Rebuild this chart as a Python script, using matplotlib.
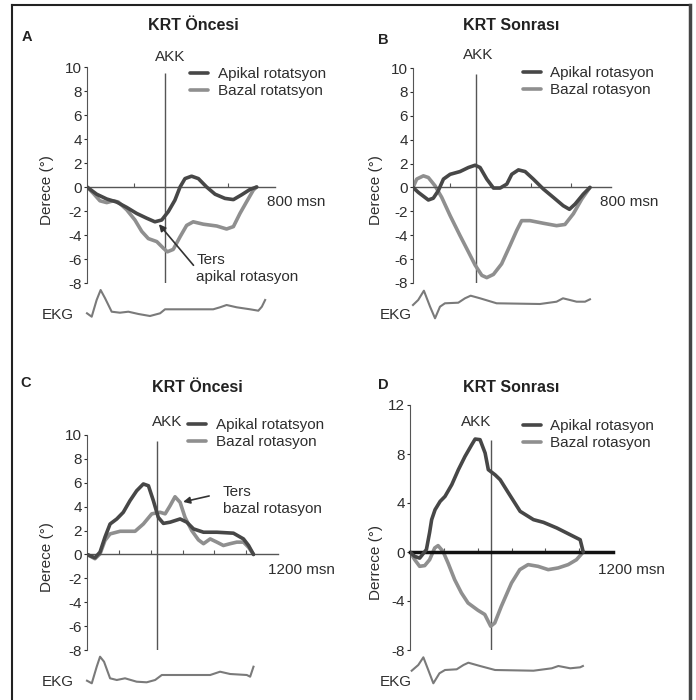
import matplotlib
matplotlib.use("Agg")
import matplotlib.pyplot as plt
from matplotlib.lines import Line2D

plt.rcParams['font.family'] = ['Liberation Sans', 'DejaVu Sans']

W, H = 696, 700
DARK = '#474747'
GRAY = '#8f8f8f'
TXT = '#2e2e2e'

# --- panel A: KRT Oncesi, 800 msn
a_apikal_t = [0, 41, 84, 126, 169, 211, 254, 289, 318, 346, 374, 396, 417, 445, 474, 509, 545, 587, 623, 658, 694, 722]
a_apikal_v = [0, -0.6, -1.0, -1.25, -1.7, -2.2, -2.6, -2.9, -2.75, -2.05, -1.1, 0, 0.7, 0.9, 0.7, 0, -0.6, -0.95, -1.05, -0.65, -0.2, 0]
a_bazal_t = [0, 27, 55, 84, 112, 133, 169, 204, 233, 261, 297, 325, 342, 367, 396, 424, 452, 495, 552, 594, 623, 651, 680, 708, 722]
a_bazal_v = [0, -0.53, -1.15, -1.3, -1.15, -1.25, -1.9, -2.75, -3.7, -4.3, -4.55, -5.1, -5.4, -5.2, -4.15, -3.2, -2.9, -3.1, -3.25, -3.5, -3.3, -2.2, -1.2, -0.25, 0]
a_ekg_t = [0, 20, 41, 58, 77, 105, 140, 176, 219, 268, 311, 332, 395, 537, 566, 594, 637, 694, 729, 744, 758]
a_ekg_v = [-0.33, -0.67, 1.0, 2.0, 1.17, -0.17, -0.27, -0.17, -0.4, -0.6, -0.33, 0.07, 0.07, 0.07, 0.27, 0.5, 0.27, 0.07, -0.07, 0.33, 1.0]

# --- panel B: KRT Sonrasi, 800 msn
b_apikal_t = [0, 22, 62, 82, 102, 123, 150, 190, 224, 251, 271, 298, 325, 352, 379, 399, 426, 453, 486, 527, 567, 607, 632, 655, 688, 715]
b_apikal_v = [0, -0.42, -1.05, -0.9, -0.28, 0.7, 1.1, 1.33, 1.67, 1.86, 1.67, 0.7, -0.05, -0.05, 0.28, 1.1, 1.47, 1.33, 0.7, -0.14, -0.83, -1.53, -1.83, -1.39, -0.56, 0]
b_bazal_t = [0, 15, 42, 62, 89, 116, 150, 190, 224, 251, 278, 298, 325, 358, 392, 419, 439, 473, 527, 580, 614, 648, 682, 715]
b_bazal_v = [0, 0.7, 0.97, 0.83, 0.14, -0.83, -2.36, -4.03, -5.4, -6.5, -7.36, -7.55, -7.28, -6.4, -4.86, -3.6, -2.78, -2.78, -3.0, -3.2, -3.1, -2.2, -0.97, 0]
b_ekg_t = [0, 21, 44, 69, 89, 109, 129, 183, 210, 233, 271, 338, 513, 580, 606, 634, 661, 695, 715]
b_ekg_v = [-0.1, 0.4, 1.33, -0.27, -1.43, -0.27, 0.07, 0.13, 0.57, 0.83, 0.57, 0.07, 0, 0.23, 0.57, 0.4, 0.23, 0.23, 0.47]

# --- panel C: KRT Oncesi, 1200 msn
c_apikal_t = [0, 50, 82, 113, 145, 187, 228, 270, 312, 354, 386, 417, 448, 480, 522, 585, 627, 669, 732, 816, 920, 983, 1015, 1046]
c_apikal_v = [0, -0.28, 0.2, 1.45, 2.55, 2.97, 3.53, 4.5, 5.33, 5.9, 5.75, 4.5, 3.1, 2.6, 2.7, 2.97, 2.7, 2.14, 1.86, 1.86, 1.78, 1.3, 0.75, 0]
c_bazal_t = [0, 50, 82, 113, 145, 208, 302, 354, 407, 459, 491, 522, 553, 585, 616, 658, 700, 732, 774, 816, 857, 899, 941, 983, 1015, 1046]
c_bazal_v = [0, -0.36, 0.05, 1.17, 1.72, 1.94, 1.94, 2.55, 3.4, 3.53, 3.4, 4.08, 4.83, 4.36, 3.1, 2.0, 1.22, 0.9, 1.3, 1.03, 0.75, 0.9, 1.03, 1.03, 0.6, 0]
c_ekg_t = [0, 30, 61, 82, 107, 145, 187, 239, 312, 375, 428, 470, 543, 774, 836, 899, 1004, 1025, 1046]
c_ekg_v = [-0.37, -0.63, 1.03, 2.03, 1.53, -0.13, -0.3, -0.13, -0.47, -0.53, -0.3, 0.2, 0.2, 0.2, 0.53, 0.3, 0.2, 0.03, 1.03]

# --- panel D: KRT Sonrasi, 1200 msn
d_apikal_t = [0, 28, 57, 97, 116, 128, 148, 178, 207, 247, 286, 325, 365, 385, 414, 444, 463, 503, 533, 582, 651, 730, 789, 868, 947, 1006, 1024]
d_apikal_v = [0, -0.36, -0.5, 0.2, 1.6, 2.64, 3.45, 4.13, 4.54, 5.5, 6.72, 7.8, 8.76, 9.22, 9.17, 8.08, 6.72, 6.3, 5.9, 4.82, 3.32, 2.64, 2.42, 1.96, 1.41, 1.0, 0]
d_bazal_t = [0, 28, 57, 87, 116, 146, 166, 195, 225, 264, 304, 343, 402, 442, 477, 501, 540, 600, 649, 698, 757, 817, 876, 935, 984, 1024]
d_bazal_v = [0, -0.63, -1.17, -1.11, -0.63, 0.33, 0.52, 0.05, -0.9, -2.26, -3.34, -4.16, -4.76, -5.1, -6.06, -5.79, -4.43, -2.53, -1.44, -1.03, -1.17, -1.44, -1.3, -1.03, -0.63, 0]
d_ekg_t = [10, 49, 79, 108, 138, 174, 207, 276, 316, 345, 414, 503, 730, 838, 877, 917, 947, 1006, 1022]
d_ekg_v = [-0.07, 0.5, 1.27, 0, -1.33, -0.33, 0, 0.07, 0.5, 0.73, 0.4, 0, -0.07, 0.17, 0.4, 0.27, 0.17, 0.27, 0.4]

akk_t = {'A': 332, 'B': 256, 'C': 442, 'D': 477}

fig = plt.figure(figsize=(W / 100, H / 100), dpi=100)


def rect(x0, y0, x1, y1):
    return [x0 / W, 1 - y1 / H, (x1 - x0) / W, (y1 - y0) / H]


def ftext(x, y, s, **kw):
    kw.setdefault('color', TXT)
    return fig.text(x / W, 1 - y / H, s, **kw)


def panel(box, xmax, ylim, yticks, xticks, akk, akk_top, apikal, bazal, labels,
          leg_xy, axis_lw=1.0, axis_col='#555555'):
    ax = fig.add_axes(rect(*box))
    ax.set_xlim(0, xmax)
    ax.set_ylim(*ylim)
    ax.patch.set_alpha(0)
    for s in ('top', 'right'):
        ax.spines[s].set_visible(False)
    ax.spines['left'].set_color('#555555')
    ax.spines['bottom'].set_position(('data', 0))
    ax.spines['bottom'].set_color(axis_col)
    ax.spines['bottom'].set_linewidth(axis_lw)
    ax.set_yticks(yticks)
    ax.set_yticklabels([str(v) for v in yticks])
    ax.tick_params(axis='y', length=2, pad=1.5, labelsize=11, colors=TXT, width=0.8)
    ax.set_xticks(xticks)
    ax.tick_params(axis='x', direction='in', length=3, labelbottom=False, color='#555555', width=0.8)
    ax.vlines(akk, ylim[0], akk_top, color='#555555', lw=1.0, zorder=1)
    l1, = ax.plot(apikal[0], apikal[1], color=DARK, lw=2.6, solid_capstyle='round',
                  solid_joinstyle='round', zorder=3)
    l2, = ax.plot(bazal[0], bazal[1], color=GRAY, lw=2.6, solid_capstyle='round',
                  solid_joinstyle='round', zorder=2)
    ax.legend([l1, l2], labels, loc='upper left', frameon=False, fontsize=11,
              bbox_to_anchor=(leg_xy[0] / W, 1 - leg_xy[1] / H), bbox_transform=fig.transFigure,
              borderpad=0, borderaxespad=0, handlelength=1.2, handletextpad=0.6,
              labelspacing=0.2, labelcolor=TXT)
    return ax


def ekg(box, xmax, ylim, t, v):
    ax = fig.add_axes(rect(*box))
    ax.set_xlim(0, xmax)
    ax.set_ylim(*ylim)
    ax.axis('off')
    ax.plot(t, v, color='#7a7a7a', lw=1.5, clip_on=False)
    return ax


# Panel A
axA = panel((87, 67, 275, 283), 800, (-8, 10), list(range(10, -9, -2)), [200, 400, 600],
            akk_t['A'], 9.5, (a_apikal_t, a_apikal_v), (a_bazal_t, a_bazal_v),
            ['Apikal rotatsyon', 'Bazal rotatsyon'], (190, 67))
axA.annotate('Ters\napikal rotasyon', xy=(306, -3.1), xytext=(465, -6.8),
             fontsize=11, color=TXT, va='center', ha='left', linespacing=1.3,
             arrowprops=dict(arrowstyle='-|>', color='#333333', lw=1.2, mutation_scale=10,
                             shrinkA=0, shrinkB=0, relpos=(0, 0.5)))
ekg((87, 285, 275, 322), 800, (-1.2, 2.5), a_ekg_t, a_ekg_v)
ftext(193, 25, 'KRT Öncesi', fontsize=11.5, fontweight='bold', ha='center', va='center', color='#222222')
ftext(22, 37, 'A', fontsize=10.5, fontweight='bold', ha='left', va='center', color='#222222')
ftext(170, 57, 'AKK', fontsize=11, ha='center', va='center')
ftext(267, 202, '800 msn', fontsize=11, ha='left', va='center')
ftext(47, 190, 'Derece (°)', fontsize=11, rotation=90, ha='center', va='center')
ftext(58, 315, 'EKG', fontsize=11, ha='center', va='center')

# Panel B
axB = panel((413, 68, 611, 283), 800, (-8, 10), list(range(10, -9, -2)), [150, 310, 475, 640],
            akk_t['B'], 9.5, (b_apikal_t, b_apikal_v), (b_bazal_t, b_bazal_v),
            ['Apikal rotasyon', 'Bazal rotasyon'], (523, 66))
ekg((413, 285, 611, 322), 800, (-1.8, 1.9), b_ekg_t, b_ekg_v)
ftext(511, 25, 'KRT Sonrası', fontsize=11.5, fontweight='bold', ha='center', va='center', color='#222222')
ftext(378, 40, 'B', fontsize=10.5, fontweight='bold', ha='left', va='center', color='#222222')
ftext(478, 55, 'AKK', fontsize=11, ha='center', va='center')
ftext(600, 202, '800 msn', fontsize=11, ha='left', va='center')
ftext(376, 190, 'Derece (°)', fontsize=11, rotation=90, ha='center', va='center')
ftext(396, 315, 'EKG', fontsize=11, ha='center', va='center')

# Panel C
axC = panel((87, 435, 278, 650), 1200, (-8, 10), list(range(10, -9, -2)), [200, 400, 600, 800, 1000],
            akk_t['C'], 9.5, (c_apikal_t, c_apikal_v), (c_bazal_t, c_bazal_v),
            ['Apikal rotatsyon', 'Bazal rotasyon'], (188, 418))
axC.annotate('Ters\nbazal rotasyon', xy=(604, 4.4), xytext=(853, 4.5),
             fontsize=11, color=TXT, va='center', ha='left', linespacing=1.3,
             arrowprops=dict(arrowstyle='-|>', color='#333333', lw=1.2, mutation_scale=10,
                             shrinkA=8, shrinkB=0, relpos=(0, 0.75)))
ekg((87, 652, 278, 690), 1200, (-1.3, 2.5), c_ekg_t, c_ekg_v)
ftext(197, 387, 'KRT Öncesi', fontsize=11.5, fontweight='bold', ha='center', va='center', color='#222222')
ftext(20, 383, 'C', fontsize=10.5, fontweight='bold', ha='left', va='center', color='#222222')
ftext(167, 422, 'AKK', fontsize=11, ha='center', va='center')
ftext(268, 570, '1200 msn', fontsize=11, ha='left', va='center')
ftext(47, 557, 'Derece (°)', fontsize=11, rotation=90, ha='center', va='center')
ftext(58, 682, 'EKG', fontsize=11, ha='center', va='center')

# Panel D
axD = panel((410, 405, 613, 650), 1200, (-8, 12), [12, 8, 4, 0, -4, -8], [200, 400, 600, 800, 1000],
            akk_t['D'], 9.17, (d_apikal_t, d_apikal_v), (d_bazal_t, d_bazal_v),
            ['Apikal rotasyon', 'Bazal rotasyon'], (523, 419), axis_lw=2.5, axis_col='#111111')
ekg((410, 652, 613, 690), 1200, (-2.0, 1.8), d_ekg_t, d_ekg_v)
ftext(511, 388, 'KRT Sonrası', fontsize=11.5, fontweight='bold', ha='center', va='center', color='#222222')
ftext(378, 385, 'D', fontsize=10.5, fontweight='bold', ha='left', va='center', color='#222222')
ftext(476, 422, 'AKK', fontsize=11, ha='center', va='center')
ftext(598, 570, '1200 msn', fontsize=11, ha='left', va='center')
ftext(376, 563, 'Derrece (°)', fontsize=11, rotation=90, ha='center', va='center')
ftext(396, 682, 'EKG', fontsize=11, ha='center', va='center')

# outer frame (no bottom edge)
for (x0, y0, x1, y1, lw, c) in [(12, 5, 12, 700, 1.5, '#222222'),
                                (12, 5, 690, 5, 1.5, '#222222'),
                                (690, 5, 690, 700, 2.5, '#444444')]:
    fig.add_artist(Line2D([x0 / W, x1 / W], [1 - y0 / H, 1 - y1 / H], color=c, lw=lw,
                          transform=fig.transFigure))

fig.savefig('out.png', dpi=100, facecolor='white')
